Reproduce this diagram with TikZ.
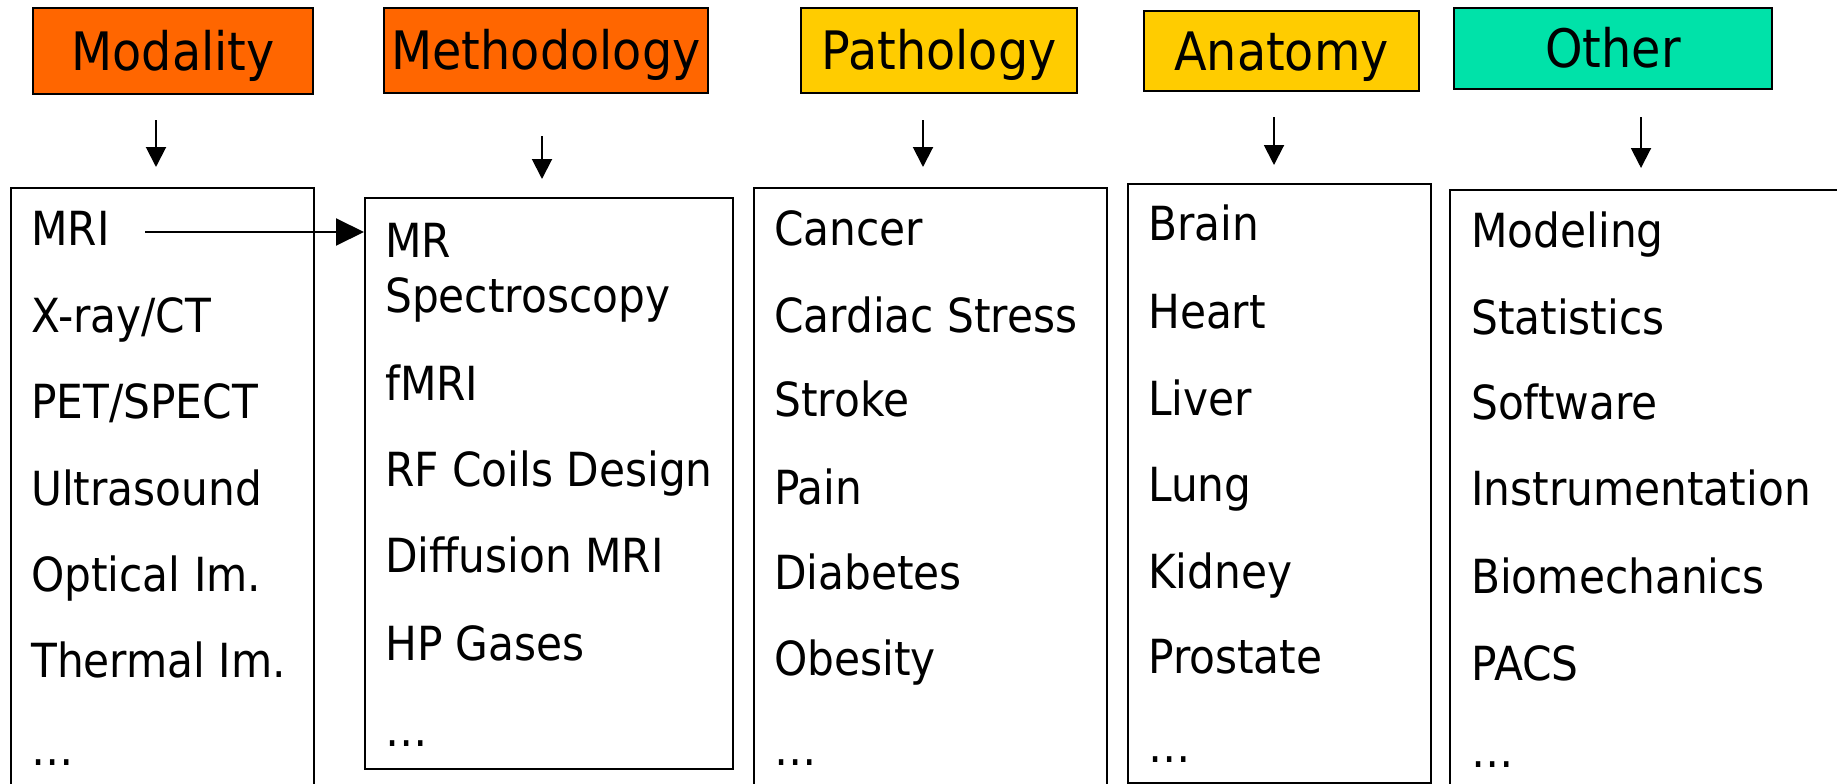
\documentclass[tikz,border=0pt]{standalone}
\usepackage{fontspec}
\setmainfont{DejaVu Sans}[FakeStretch=0.9]
\usetikzlibrary{arrows.meta}
\definecolor{orangeH}{HTML}{FF6600}
\definecolor{yellowH}{HTML}{FFCC00}
\definecolor{greenH}{HTML}{00E2A9}
\begin{document}
\begin{tikzpicture}[x=1pt,y=-1pt,
  hdr/.style={draw=black, line width=2pt, inner sep=0pt, font=\fontsize{53}{55}\selectfont, text height=39pt, text depth=0pt},
  item/.style={anchor=base west, inner sep=0pt, font=\fontsize{47}{48}\selectfont},
  listbox/.style={draw=black, line width=2pt, anchor=north west, inner sep=0pt},
  down/.style={line width=2pt, -{Triangle[length=20pt,width=20pt]}},
  across/.style={line width=2pt, -{Triangle[length=28pt,width=27pt]}}]
\useasboundingbox (0,0) rectangle (1837,784);
\fill[white] (0,0) rectangle (1837,784);
\clip (0,0) rectangle (1837,784);
% headers
\node[hdr, fill=orangeH, minimum width=280pt, minimum height=86pt] (hMod) at (173,51) {Modality};
\node[hdr, fill=orangeH, minimum width=324pt, minimum height=85pt] (hMeth) at (546,50.5) {Methodology};
\node[hdr, fill=yellowH, minimum width=276pt, minimum height=85pt] (hPath) at (939,50.5) {Pathology};
\node[hdr, fill=yellowH, minimum width=275pt, minimum height=80pt] (hAnat) at (1281.5,51) {Anatomy};
\node[hdr, fill=greenH, minimum width=318pt, minimum height=81pt] (hOther) at (1613,48.5) {Other};
% list boxes
\node[listbox, minimum width=303pt, minimum height=700pt] (bMod) at (10,187) {};
\node[listbox, minimum width=368pt, minimum height=571pt] (bMeth) at (364,197) {};
\node[listbox, minimum width=353pt, minimum height=700pt] (bPath) at (753,187) {};
\node[listbox, minimum width=303pt, minimum height=599pt] (bAnat) at (1127,183) {};
\node[listbox, minimum width=500pt, minimum height=700pt] (bOther) at (1449,189) {};
% down arrows
\coordinate (d1a) at (156,120); \coordinate (d1b) at (156,167);
\coordinate (d2a) at (542,136); \coordinate (d2b) at (542,179);
\coordinate (d3a) at (923,120); \coordinate (d3b) at (923,167);
\coordinate (d4a) at (1274,117); \coordinate (d4b) at (1274,165);
\coordinate (d5a) at (1641,117); \coordinate (d5b) at (1641,168);
\draw[down] (d1a) -- (d1b);
\draw[down] (d2a) -- (d2b);
\draw[down] (d3a) -- (d3b);
\draw[down] (d4a) -- (d4b);
\draw[down] (d5a) -- (d5b);
% Modality items
\node[item] (m1) at (31,245) {MRI};
\node[item] (m2) at (31,332) {X-ray/CT};
\node[item] (m3) at (31,418) {PET/SPECT};
\node[item] (m4) at (31,505) {Ultrasound};
\node[item] (m5) at (31,591) {Optical Im.};
\node[item] (m6) at (31,677) {Thermal Im.};
\node[item] (m7) at (31,765) {…};
% Methodology items
\node[item] (t1) at (385,257) {MR};
\node[item] (t1b) at (385,312) {Spectroscopy};
\node[item] (t2) at (385,400) {fMRI};
\node[item] (t3) at (385,486) {RF Coils Design};
\node[item] (t4) at (385,572) {Diffusion MRI};
\node[item] (t5) at (385,660) {HP Gases};
\node[item] (t6) at (385,746) {…};
% Pathology items
\node[item] (p1) at (774,245) {Cancer};
\node[item] (p2) at (774,332) {Cardiac Stress};
\node[item] (p3) at (774,416) {Stroke};
\node[item] (p4) at (774,504) {Pain};
\node[item] (p5) at (774,589) {Diabetes};
\node[item] (p6) at (774,675) {Obesity};
\node[item] (p7) at (774,765) {…};
% Anatomy items
\node[item] (a1) at (1148,240) {Brain};
\node[item] (a2) at (1148,328) {Heart};
\node[item] (a3) at (1148,415) {Liver};
\node[item] (a4) at (1148,501) {Lung};
\node[item] (a5) at (1148,588) {Kidney};
\node[item] (a6) at (1148,673) {Prostate};
\node[item] (a7) at (1148,762) {…};
% Other items
\node[item] (o1) at (1471,247) {Modeling};
\node[item] (o2) at (1471,334) {Statistics};
\node[item] (o3) at (1471,419) {Software};
\node[item] (o4) at (1471,505) {Instrumentation};
\node[item] (o5) at (1471,593) {Biomechanics};
\node[item] (o6) at (1471,680) {PACS};
\node[item] (o7) at (1471,767) {…};
% MRI -> MR Spectroscopy
\coordinate (mriStart) at (145,232);
\draw[across] (mriStart) -- (mriStart -| bMeth.west);
\end{tikzpicture}
\end{document}
